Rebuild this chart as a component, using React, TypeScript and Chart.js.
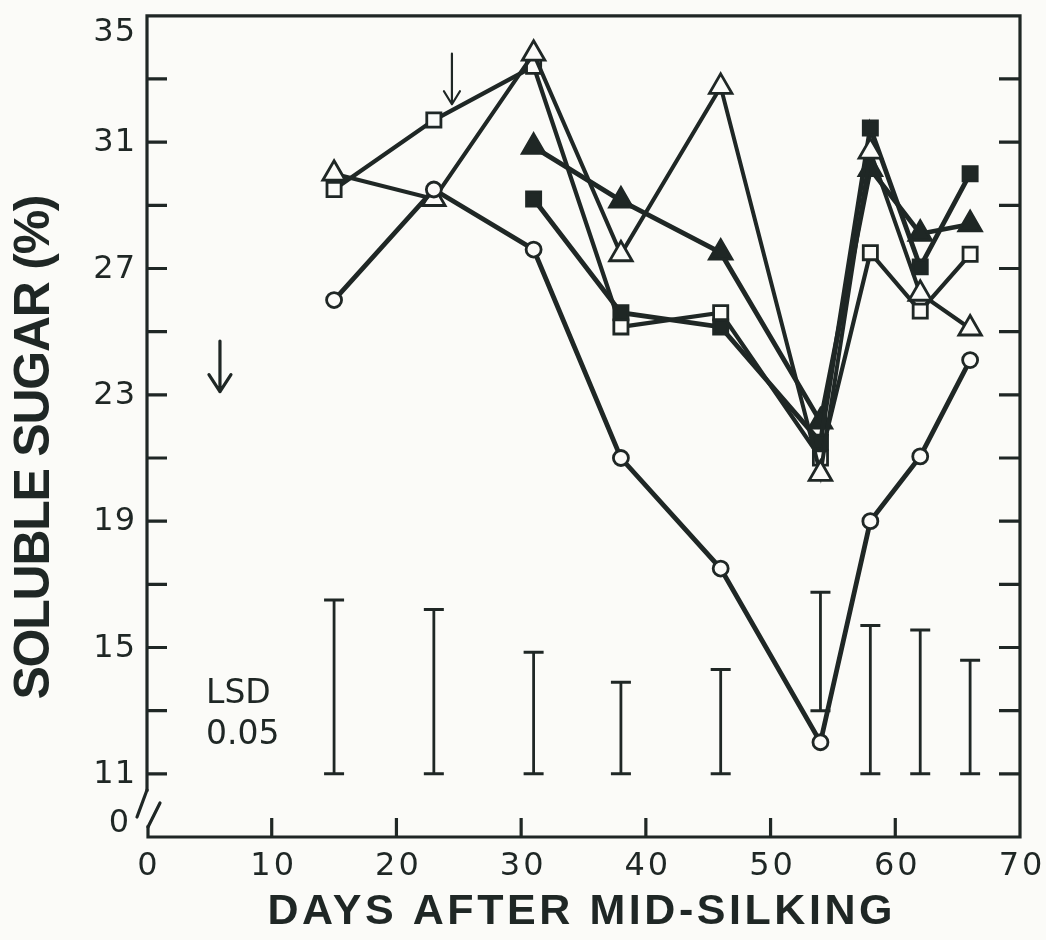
import React, { useEffect, useRef } from "react";
import { Chart, registerables } from "chart.js";

Chart.register(...registerables);

// ---- data ----
const days = [15, 23, 31, 38, 46, 54, 58, 62, 66];
const openCircle = [26.0, 29.5, 27.6, 21.0, 17.5, 12.0, 19.0, 21.05, 24.1];
const openSquare = [29.5, 31.7, 33.4, 25.15, 25.6, 21.0, 27.5, 25.65, 27.45];
const openTriangle = [30.0, 29.2, 33.8, 27.45, 32.75, 20.5, 30.7, 26.2, 25.1];
const filledSquare = [null, null, 29.2, 25.6, 25.15, 21.5, 31.45, 27.05, 30.0];
const filledTriangle = [null, null, 30.85, 29.15, 27.5, 22.15, 30.15, 28.1, 28.4];
const lsdLow = [11, 11, 11, 11, 11, 13.0, 11, 11, 11];
const lsdHigh = [16.5, 16.2, 14.85, 13.9, 14.3, 16.75, 15.7, 15.55, 14.6];
const yMinorTicks = [11, 13, 15, 17, 19, 21, 23, 25, 27, 29, 31, 33];
const yTickLabels = [11, 15, 19, 23, 27, 31, 35];
const yBreakValue = 9; // position shown as "0" below the axis break
const yMax = 35;
const xTicks = [0, 10, 20, 30, 40, 50, 60, 70];
const xInnerTicks = [10, 20, 30, 40, 50, 60];
const arrowX = [24.45, 5.85];
const arrowFrom = [33.8, 24.7];
const arrowTo = [32.2, 23.1];
const xTitle = "DAYS AFTER MID-SILKING";
const yTitle = "SOLUBLE SUGAR (%)";
const lsdText = ["LSD", "0.05"];

const INK = "#1f2725";
const BG = "#fbfbf8";

function pts(vals: (number | null)[]) {
  const out: { x: number; y: number }[] = [];
  days.forEach((d, i) => {
    const v = vals[i];
    if (v !== null && v !== undefined) out.push({ x: d, y: v });
  });
  return out;
}

function fitText(
  ctx: CanvasRenderingContext2D,
  text: string,
  font: string,
  cx: number,
  y: number,
  target: number
) {
  ctx.font = font;
  (ctx as any).letterSpacing = "0px";
  const w = ctx.measureText(text).width;
  const ls = (target - w) / (text.length - 1);
  (ctx as any).letterSpacing = ls + "px";
  ctx.textAlign = "left";
  ctx.fillText(text, cx - target / 2, y);
  (ctx as any).letterSpacing = "0px";
}

const decorPlugin = {
  id: "decor",
  beforeDraw(chart: any) {
    const ctx = chart.ctx;
    ctx.save();
    ctx.fillStyle = BG;
    ctx.fillRect(0, 0, chart.width, chart.height);
    ctx.restore();
  },
  beforeDatasetsDraw(chart: any) {
    const ctx = chart.ctx;
    const xs = chart.scales.x;
    const ys = chart.scales.y;
    ctx.save();
    ctx.strokeStyle = INK;
    ctx.lineCap = "butt";
    days.forEach((d, i) => {
      const px = xs.getPixelForValue(d);
      const y0 = ys.getPixelForValue(lsdLow[i]);
      const y1 = ys.getPixelForValue(lsdHigh[i]);
      ctx.lineWidth = 2.8;
      ctx.beginPath();
      ctx.moveTo(px, y0);
      ctx.lineTo(px, y1);
      ctx.stroke();
      ctx.lineWidth = 3;
      ctx.beginPath();
      ctx.moveTo(px - 10, y0);
      ctx.lineTo(px + 10, y0);
      ctx.moveTo(px - 10, y1);
      ctx.lineTo(px + 10, y1);
      ctx.stroke();
    });
    ctx.restore();
  },
  afterDatasetsDraw(chart: any) {
    const ctx = chart.ctx;
    const xs = chart.scales.x;
    const ys = chart.scales.y;
    const a = chart.chartArea;
    ctx.save();
    ctx.strokeStyle = INK;
    ctx.fillStyle = INK;
    ctx.lineWidth = 3.2;
    ctx.lineCap = "square";

    // frame with axis break on the left
    const breakTop = a.bottom - 47;
    ctx.beginPath();
    ctx.moveTo(a.left, breakTop);
    ctx.lineTo(a.left, a.top);
    ctx.lineTo(a.right, a.top);
    ctx.lineTo(a.right, a.bottom);
    ctx.lineTo(a.left + 1, a.bottom);
    ctx.lineTo(a.left + 1, a.bottom - 10);
    ctx.stroke();
    ctx.lineCap = "round";
    ctx.beginPath();
    ctx.moveTo(a.left, breakTop);
    ctx.lineTo(a.left - 10, breakTop + 27);
    ctx.moveTo(a.left + 1, a.bottom - 10);
    ctx.lineTo(a.left + 13, a.bottom - 34);
    ctx.stroke();
    ctx.lineCap = "butt";

    // inward ticks
    ctx.lineWidth = 3.2;
    ctx.beginPath();
    yMinorTicks.forEach((v) => {
      const py = ys.getPixelForValue(v);
      ctx.moveTo(a.left, py);
      ctx.lineTo(a.left + 20, py);
      ctx.moveTo(a.right, py);
      ctx.lineTo(a.right - 21, py);
    });
    xInnerTicks.forEach((v) => {
      const px = xs.getPixelForValue(v);
      ctx.moveTo(px, a.bottom);
      ctx.lineTo(px, a.bottom - 19);
    });
    ctx.stroke();

    // tick labels
    ctx.font = "32px 'DejaVu Sans'";
    (ctx as any).letterSpacing = "1px";
    ctx.textAlign = "right";
    ctx.textBaseline = "middle";
    yTickLabels.forEach((v) => {
      let py = ys.getPixelForValue(v);
      if (v === yMax) py += 16;
      ctx.fillText(String(v), a.left - 11, py + 1);
    });
    ctx.fillText("0", a.left - 17, ys.getPixelForValue(yBreakValue) - 13);
    ctx.font = "32px 'DejaVu Sans'";
    (ctx as any).letterSpacing = "3px";
    ctx.textAlign = "center";
    xTicks.forEach((v) => {
      ctx.fillText(String(v), xs.getPixelForValue(v) + 2, a.bottom + 30);
    });
    (ctx as any).letterSpacing = "0px";

    // LSD label
    ctx.font = "33px 'DejaVu Sans'";
    ctx.textAlign = "left";
    ctx.textBaseline = "alphabetic";
    ctx.fillText(lsdText[0], 206, 703);
    ctx.fillText(lsdText[1], 206, 744);

    // arrows
    arrowX.forEach((xv, i) => {
      const px = xs.getPixelForValue(xv);
      const p0 = ys.getPixelForValue(arrowFrom[i]);
      const p1 = ys.getPixelForValue(arrowTo[i]);
      const hw = i === 0 ? 8 : 11;
      const hh = i === 0 ? 13 : 17;
      ctx.lineWidth = i === 0 ? 2.2 : 3.2;
      ctx.lineCap = "round";
      ctx.lineJoin = "round";
      ctx.beginPath();
      ctx.moveTo(px, p0);
      ctx.lineTo(px, p1);
      ctx.moveTo(px - hw, p1 - hh);
      ctx.lineTo(px, p1);
      ctx.lineTo(px + hw, p1 - hh);
      ctx.stroke();
    });

    // axis titles
    ctx.textBaseline = "middle";
    fitText(ctx, xTitle, "bold 43px 'Liberation Sans'", 580, 912, 625);
    ctx.save();
    ctx.translate(35, 447);
    ctx.rotate(-Math.PI / 2);
    fitText(ctx, yTitle, "bold 50px 'Liberation Sans'", 0, 0, 505);
    ctx.restore();

    ctx.restore();
  },
};

export default function App() {
  const ref = useRef<HTMLCanvasElement | null>(null);

  useEffect(() => {
    if (!ref.current) return;
    const common = {
      showLine: true,
      borderColor: INK,
      borderWidth: 4.8,
      tension: 0,
      pointBorderColor: INK,
      pointBorderWidth: 2.8,
      clip: false as any,
    };
    const chart = new Chart(ref.current, {
      type: "line",
      data: {
        datasets: [
          {
            ...common,
            label: "open circle",
            data: pts(openCircle),
            pointStyle: "circle",
            pointRadius: 7.5,
            pointBackgroundColor: BG,
          },
          {
            ...common,
            label: "open triangle",
            data: pts(openTriangle),
            borderWidth: 4,
            pointStyle: "triangle",
            pointRadius: 13,
            pointBackgroundColor: BG,
          },
          {
            ...common,
            label: "open square",
            data: pts(openSquare),
            borderWidth: 4.2,
            pointStyle: "rect",
            pointRadius: 10,
            pointBackgroundColor: BG,
          },
          {
            ...common,
            label: "filled square",
            data: pts(filledSquare),
            pointStyle: "rect",
            pointRadius: 10,
            pointBackgroundColor: INK,
          },
          {
            ...common,
            label: "filled triangle",
            data: pts(filledTriangle),
            pointStyle: "triangle",
            pointRadius: 13,
            pointBackgroundColor: INK,
          },
        ] as any,
      },
      options: {
        responsive: false,
        animation: false,
        devicePixelRatio: 1,
        events: [],
        layout: { padding: { left: 147, right: 26, top: 10, bottom: 103 } },
        plugins: { legend: { display: false }, tooltip: { enabled: false } },
        scales: {
          x: { type: "linear", min: 0, max: 70, display: false },
          y: { type: "linear", min: yBreakValue, max: yMax, display: false },
        },
      } as any,
      plugins: [decorPlugin as any],
    });
    return () => chart.destroy();
  }, []);

  return (
    <div style={{ position: "fixed", left: 0, top: 0, width: 1046, height: 940, background: BG }}>
      <canvas ref={ref} width={1046} height={940} style={{ display: "block" }} />
    </div>
  );
}
